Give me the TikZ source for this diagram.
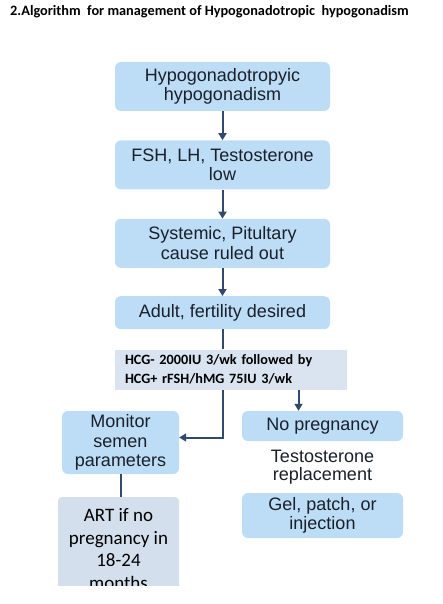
\documentclass[tikz,border=0pt]{standalone}
\usepackage{fontspec}
\setmainfont{Liberation Sans}
\newfontfamily\calibri{Carlito}
\usetikzlibrary{arrows.meta, positioning}
\definecolor{boxblue}{HTML}{BDDCF6}
\definecolor{boxgrey}{HTML}{D9E4F0}
\definecolor{artgrey}{HTML}{D3DFEC}
\definecolor{navy}{HTML}{2F4A6C}
\definecolor{ink}{HTML}{1A202A}
\tikzset{
  stepbox/.style = {rectangle, rounded corners=6pt, fill=boxblue, draw=none, align=center,
                    text=ink, inner sep=2pt, font=\fontsize{18}{19.5}\selectfont},
  dosebox/.style = {rectangle, fill=boxgrey, align=left, text=black, inner xsep=10pt,
                    font=\calibri\bfseries\fontsize{14.2}{19}\selectfont},
  artbox/.style  = {rectangle, rounded corners=4pt, fill=artgrey, align=center, text=black,
                    inner sep=2pt, font=\calibri\fontsize{19}{22.5}\selectfont},
  note/.style    = {align=center, text=ink, font=\fontsize{18}{18.5}\selectfont},
  title/.style   = {anchor=west, text=black, inner sep=0pt, font=\calibri\bfseries\fontsize{14.3}{16}\selectfont},
  flow/.style    = {-{Triangle[length=7pt, width=8pt]}, draw=navy, line width=2pt},
  link/.style    = {draw=navy, line width=2pt},
}

\begin{document}
\begin{tikzpicture}[x=1pt, y=1pt]
  \useasboundingbox[fill=white] (0,0) rectangle (442,-604);

  \node[title] (head) at (10,-12) {2.Algorithm\ \ for management of Hypogonadotropic\ \ hypogonadism};

  % main column
  \node[stepbox, minimum width=215pt, minimum height=49pt] (hypo) at (222.5,-86.5) {Hypogonadotropyic\\hypogonadism};
  \node[stepbox, minimum width=215pt, minimum height=49pt, below=29pt of hypo] (labs) {FSH, LH, Testosterone\\low};
  \node[stepbox, minimum width=215pt, minimum height=49pt, below=29pt of labs] (cause) {Systemic, Pitultary\\cause ruled out};
  \node[stepbox, minimum width=215pt, minimum height=33pt, below=28pt of cause] (adult) {Adult, fertility desired};
  \node[dosebox, text width=212pt, minimum height=40pt, below=20pt of adult.south west, anchor=north west] (hcg)
    {HCG- 2000IU 3/wk followed by\\HCG+ rFSH/hMG 75IU 3/wk};

  % branches
  \node[stepbox, minimum width=117pt, minimum height=63pt] (monitor) at (120.5,-442.5) {Monitor\\semen\\parameters};
  \node[stepbox, minimum width=161pt, minimum height=30pt] (nopreg) at (322.5,-426) {No pregnancy};
  \node[note] (testo) at (322.5,-467) {Testosterone\\replacement};
  \node[stepbox, minimum width=161pt, minimum height=45pt] (gel) at (322.5,-515.5) {Gel, patch, or\\injection};
  \begin{scope}
    \clip (0,-490) rectangle (442,-585);
    \node[artbox, minimum width=121pt, minimum height=104pt] (art) at (118.5,-549) {ART if no\\pregnancy in\\18-24\\months};
  \end{scope}

  \draw[flow] (hypo) -- (labs);
  \draw[flow] (labs) -- (cause);
  \draw[flow] (cause) -- (adult);
  \draw[link] (adult.south) -- (adult.south |- hcg.north);
  \draw[flow] (adult.south |- hcg.south) |- ([yshift=5pt]monitor.east);
  \coordinate[xshift=-24pt] (split) at (nopreg.north);
  \draw[flow] (split |- hcg.south) -- (split);
  \draw[link] (monitor.south) -- (monitor.south |- art.north);
\end{tikzpicture}
\end{document}
